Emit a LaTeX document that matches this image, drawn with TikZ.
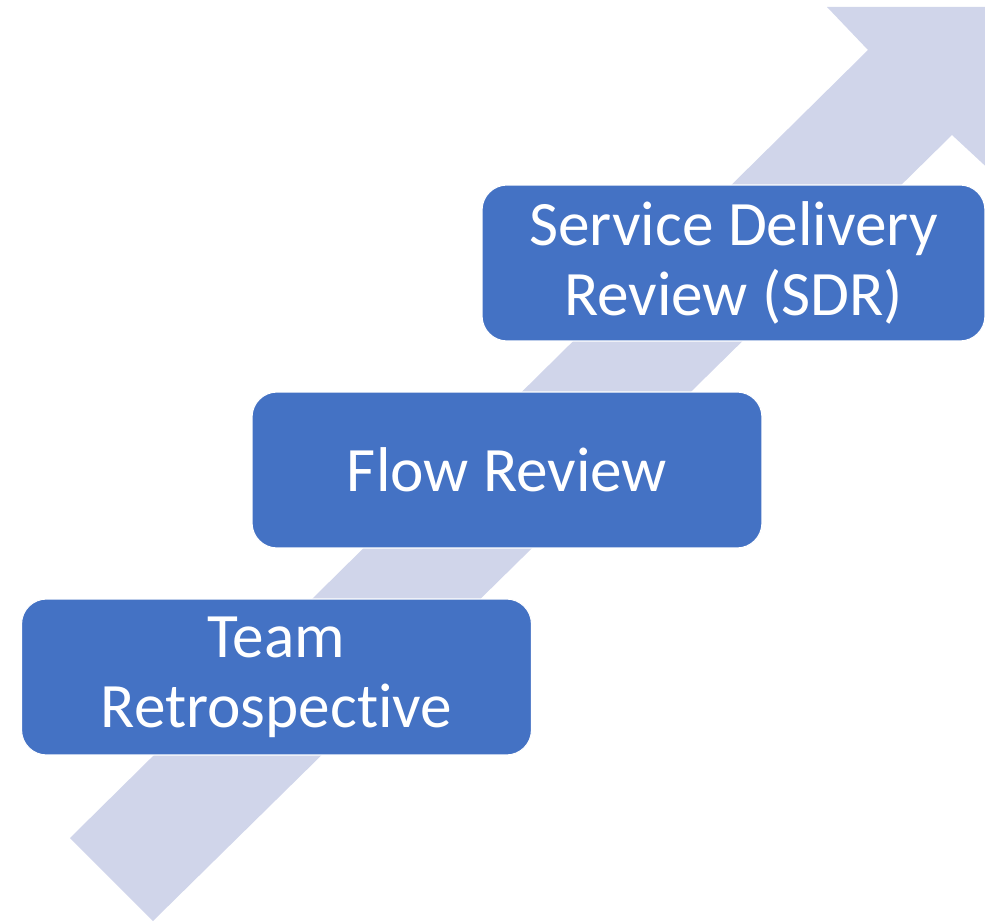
\documentclass[tikz,border=0pt]{standalone}
\usepackage{fontspec}
\setmainfont[RawFeature=-liga]{Carlito}
\definecolor{stepblue}{RGB}{68,114,196}
\definecolor{arrowgray}{RGB}{208,213,234}
\tikzstyle{step box}=[rounded corners=.5cm, fill=stepblue, draw=white, line width=.6pt, text=white, align=center, minimum width=10.2cm, minimum height=3.12cm, inner sep=0pt, font=\fontsize{36}{39.7}\selectfont]
\tikzstyle{big arrow}=[fill=arrowgray, draw=none]

\begin{document}
\begin{tikzpicture}[x=.02cm,y=-.02cm]
    \useasboundingbox (0,0) rectangle (985,922);
    \clip (0,0) rectangle (985,922);

    % Arrow
    \fill[big arrow] (70,838) -- (868,50) -- (827,7) -- (994,7) -- (994,174) -- (952,135) -- (153,921) -- cycle;

    % Steps
    \draw (276.5,677) node[step box] (retro) {Team\\Retrospective};
    \draw (507,470) node[step box] (flow) {Flow Review};
    \draw (733.5,263) node[step box, minimum width=10.06cm] (sdr) {Service Delivery\\Review (SDR)};

\end{tikzpicture}
\end{document}
